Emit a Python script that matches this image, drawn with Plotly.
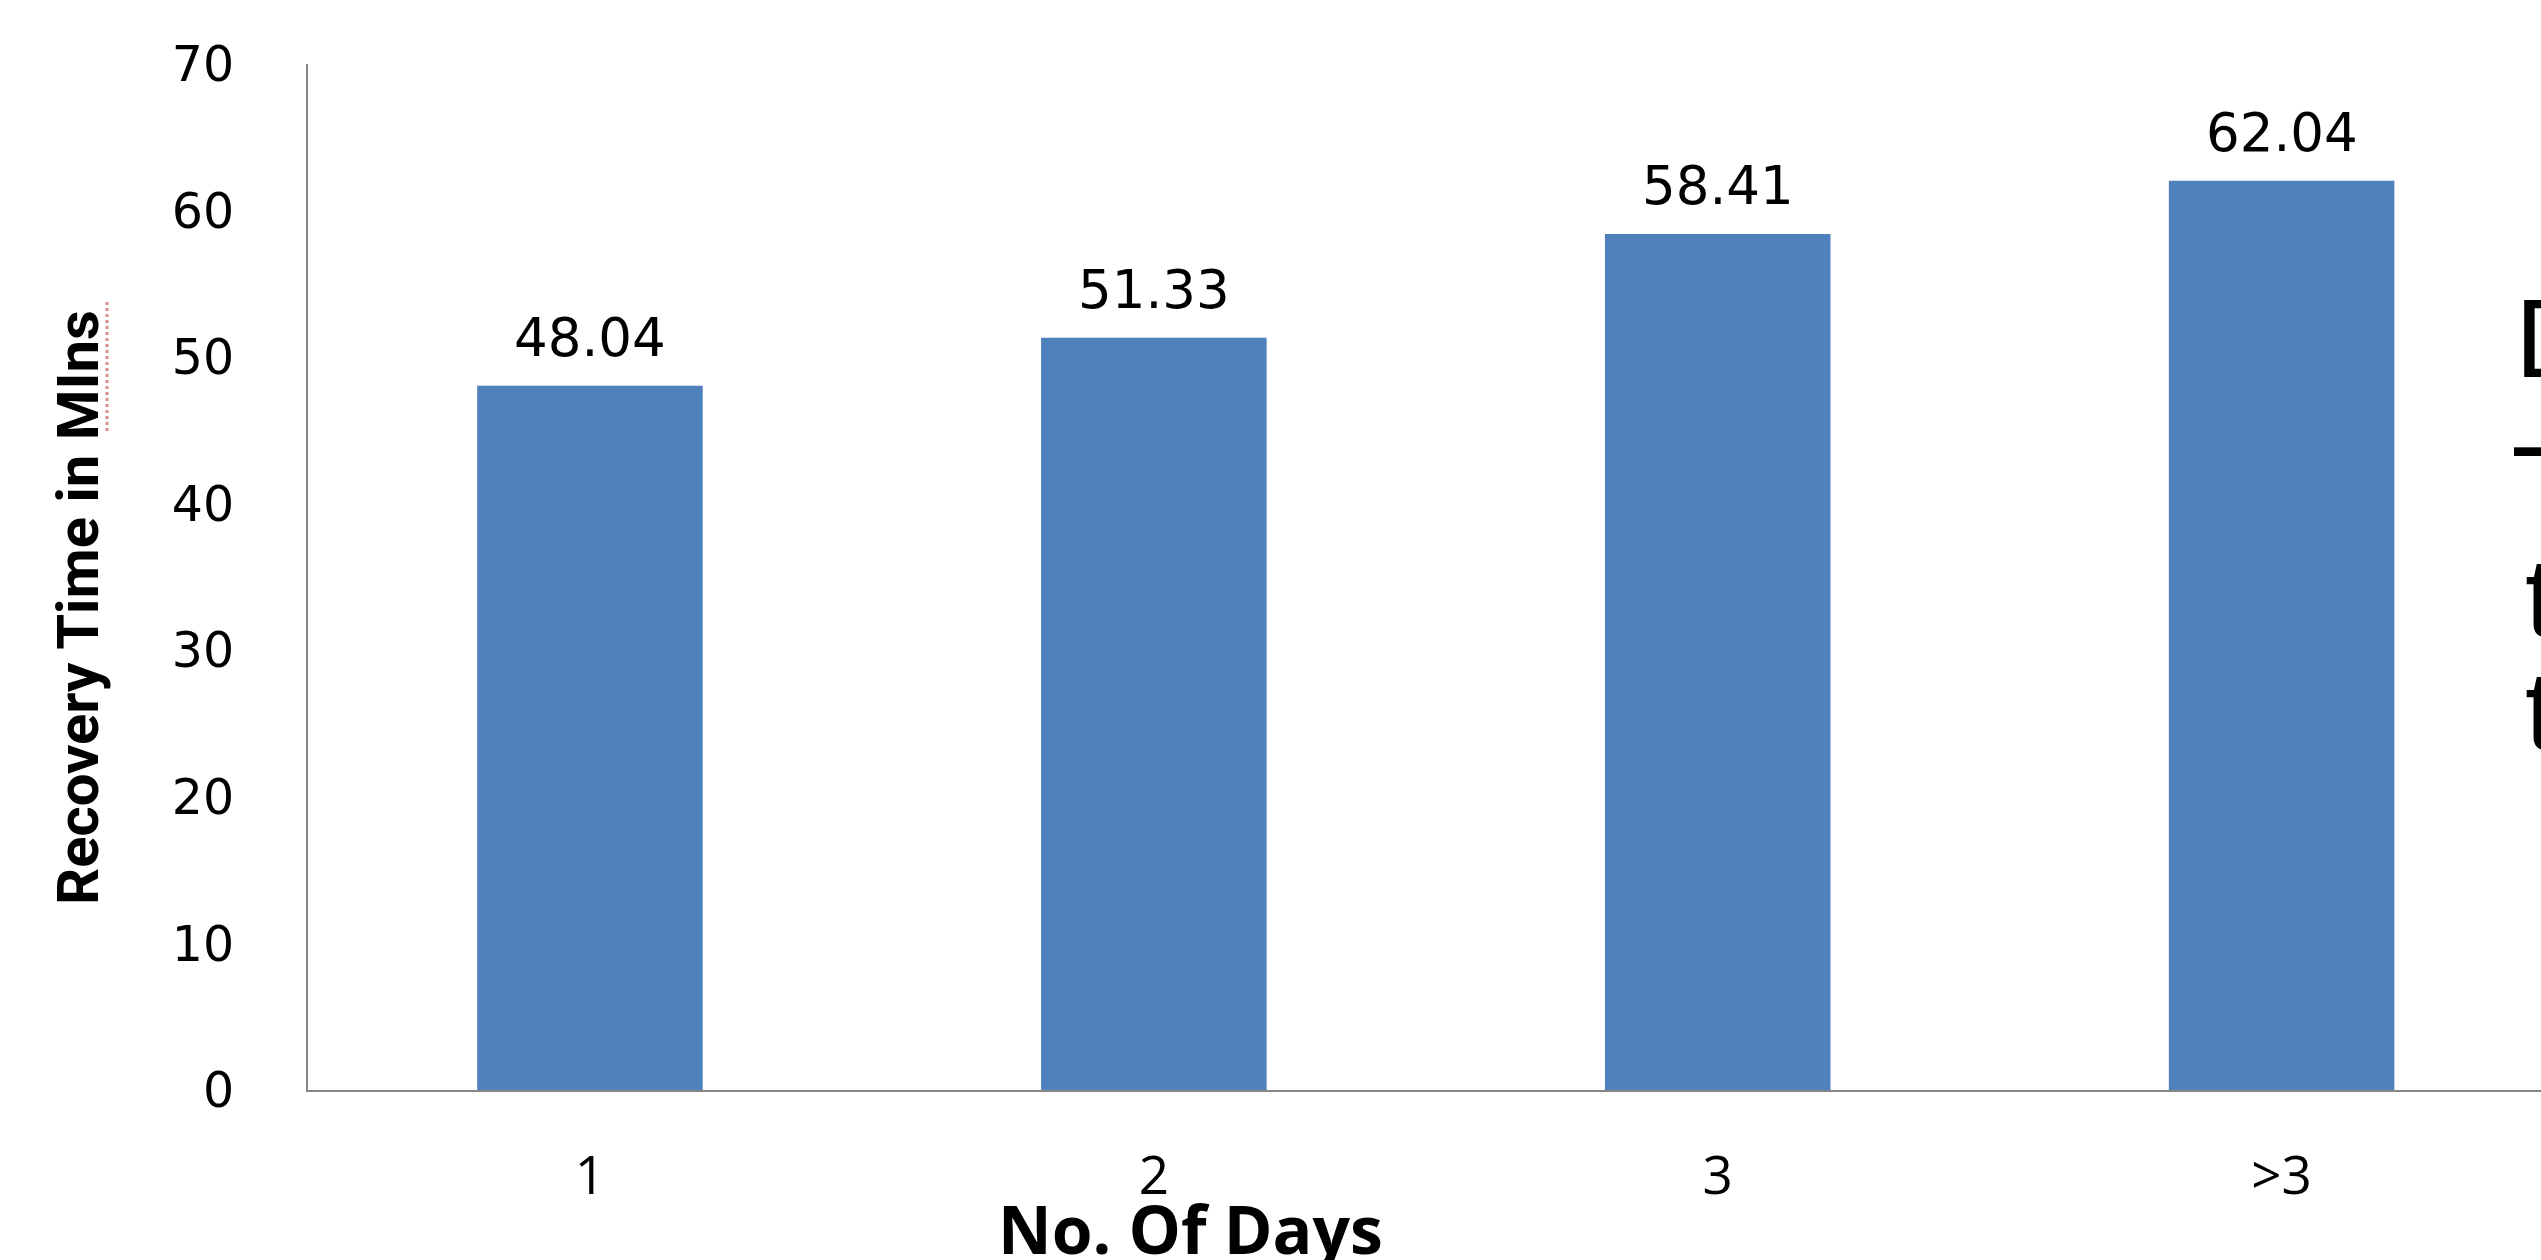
import plotly.graph_objects as go

# ---- data ----
categories = ["1", "2", "3", ">3"]
recovery_minutes = [48.04, 51.33, 58.41, 62.04]
value_labels = ["48.04", "51.33", "58.41", "62.04"]
y_tick_values = [0, 10, 20, 30, 40, 50, 60, 70]
x_title = "No. Of Days"
y_title = "Recovery Time in MIns"
side_text_fragments = ["D", "-", "t", "t"]

W, H = 2541, 1260
ML, MR, MT, MB = 308, 0, 64, 170
PW, PH = W - ML - MR, H - MT - MB


def px_x(px):
    return (px - ML) / PW


def px_y(py):
    return (H - MB - py) / PH


BAR_COLOR = "#4F81BD"
AXIS_COLOR = "#868686"

fig = go.Figure()
fig.add_trace(go.Bar(
    x=categories,
    y=recovery_minutes,
    marker=dict(color=BAR_COLOR, line=dict(width=0)),
    hoverinfo="x+y",
))

annotations = []
# data labels above bars (category axis: position by category index)
for i, (v, t) in enumerate(zip(recovery_minutes, value_labels)):
    annotations.append(dict(
        x=i, y=v, xref="x", yref="y", text=t, showarrow=False,
        yanchor="middle", xanchor="center", yshift=48,
        font=dict(family="DejaVu Sans, Verdana, sans-serif", size=53, color="#000000"),
    ))

# x axis title
annotations.append(dict(
    x=px_x(1190), y=px_y(1228), xref="paper", yref="paper", text=f"<b>{x_title}</b>",
    showarrow=False, xanchor="center", yanchor="middle",
    font=dict(family="Open Sans, Lato, sans-serif", size=66, color="#000000"),
))

# y axis title (condensed, rotated)
annotations.append(dict(
    x=px_x(78), y=px_y(608), xref="paper", yref="paper", text=f"<b>{y_title}</b>",
    showarrow=False, xanchor="center", yanchor="middle", textangle=-90,
    font=dict(family="Liberation Sans Narrow, Roboto, Liberation Sans, sans-serif",
              size=58, color="#000000"),
))

# partly visible slide text at the right edge
frag_x = [2513, 2507, 2523, 2523]
frag_y = [339, 442, 597, 711]
for t, xx, yy in zip(side_text_fragments, frag_x, frag_y):
    annotations.append(dict(
        x=px_x(xx), y=px_y(yy), xref="paper", yref="paper", text=t,
        showarrow=False, xanchor="left", yanchor="middle",
        font=dict(family="Liberation Sans, Arial, sans-serif", size=112, color="#000000"),
    ))

fig.update_layout(
    width=W, height=H, autosize=False,
    margin=dict(l=ML, r=MR, t=MT, b=MB, pad=0),
    paper_bgcolor="#FFFFFF", plot_bgcolor="#FFFFFF",
    bargap=0.6, showlegend=False,
    annotations=annotations,
    shapes=[dict(
        type="line", xref="paper", yref="paper",
        x0=px_x(107), x1=px_x(107), y0=px_y(302), y1=px_y(432),
        line=dict(color="#D98C8C", width=3, dash="dot"),
    )],
)

fig.update_xaxes(
    type="category", range=[-0.5, 3.46],
    showline=True, linecolor=AXIS_COLOR, linewidth=2,
    showgrid=False, zeroline=False, ticks="",
    ticklabelstandoff=38,
    tickfont=dict(family="Open Sans, Lato, sans-serif", size=53, color="#000000"),
)
fig.update_yaxes(
    range=[0, 70], tickvals=y_tick_values,
    showline=True, linecolor=AXIS_COLOR, linewidth=2,
    showgrid=False, zeroline=False, ticks="",
    ticklabelstandoff=62,
    tickfont=dict(family="DejaVu Sans, Verdana, sans-serif", size=49, color="#000000"),
)

fig.write_html("out.html")
